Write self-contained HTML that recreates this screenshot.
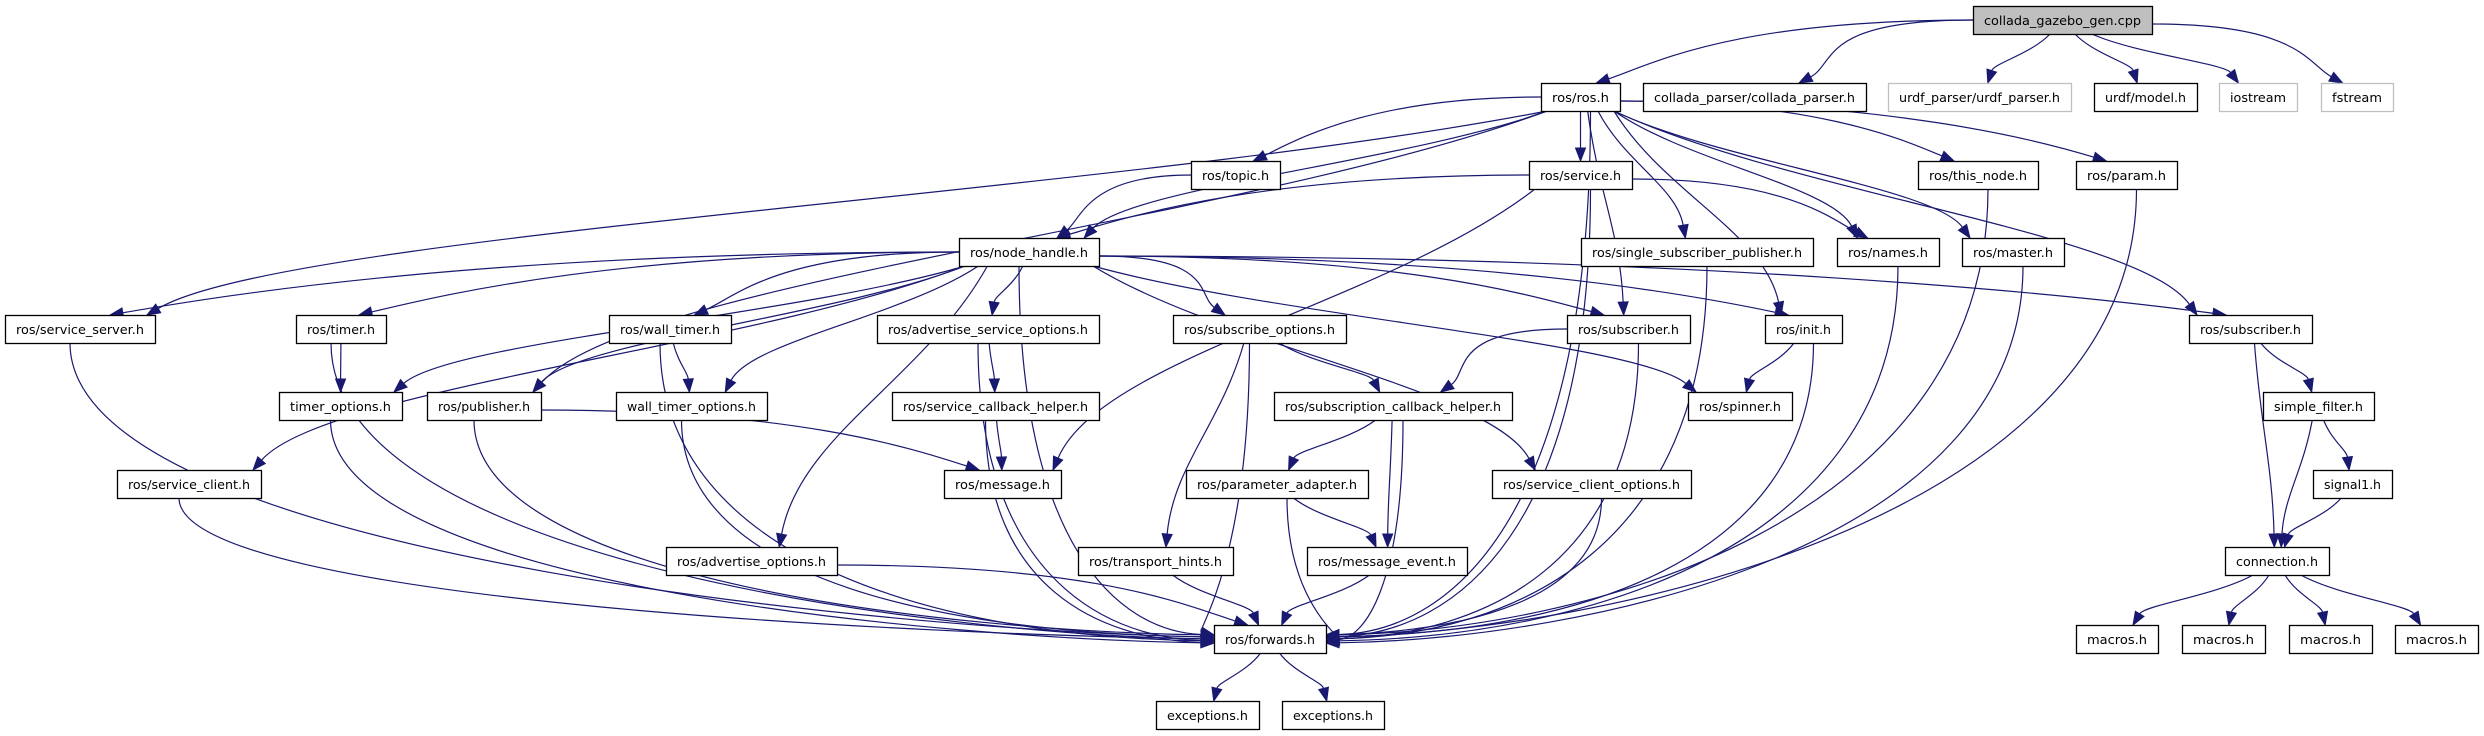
<!DOCTYPE html>
<html><head><meta charset="utf-8"><style>
html,body{margin:0;padding:0;background:#fff;}
svg{display:block;}
text{font-family:"DejaVu Sans","Liberation Sans",sans-serif;font-size:12.5px;fill:#000;}
</style></head><body>
<svg id="g" width="2484" height="736" viewBox="0 0 2484 736" xmlns="http://www.w3.org/2000/svg"></svg>
<script>
var N={
root:[1973,6,2152,34,"collada_gazebo_gen.cpp",2],
ros:[1541,83,1620,111,"ros/ros.h"],
cp:[1643,83,1866,111,"collada_parser/collada_parser.h"],
up:[1888,83,2071,111,"urdf_parser/urdf_parser.h",1],
um:[2094,83,2197,111,"urdf/model.h"],
ios:[2219,83,2297,111,"iostream",1],
fs:[2321,83,2393,111,"fstream",1],
topic:[1191,161,1280,189,"ros/topic.h"],
svc:[1529,161,1632,189,"ros/service.h"],
tn:[1918,161,2038,189,"ros/this_node.h"],
param:[2076,161,2177,189,"ros/param.h"],
nh:[959,238,1099,266,"ros/node_handle.h"],
ssp:[1581,238,1813,266,"ros/single_subscriber_publisher.h"],
names:[1837,238,1939,266,"ros/names.h"],
master:[1962,238,2064,266,"ros/master.h"],
ss:[5,315,155,343,"ros/service_server.h"],
timer:[296,315,386,343,"ros/timer.h"],
wt:[609,315,731,343,"ros/wall_timer.h"],
aso:[877,315,1099,343,"ros/advertise_service_options.h"],
so:[1173,315,1346,343,"ros/subscribe_options.h"],
sub:[1567,315,1690,343,"ros/subscriber.h"],
init:[1765,315,1842,343,"ros/init.h"],
sub2:[2189,315,2312,343,"ros/subscriber.h"],
to:[279,392,402,420,"timer_options.h"],
pub:[427,392,541,420,"ros/publisher.h"],
wto:[616,392,767,420,"wall_timer_options.h"],
sch:[892,392,1099,420,"ros/service_callback_helper.h"],
subch:[1274,392,1512,420,"ros/subscription_callback_helper.h"],
spin:[1688,392,1792,420,"ros/spinner.h"],
sf:[2263,392,2374,420,"simple_filter.h"],
sc:[117,470,261,498,"ros/service_client.h"],
msg:[944,470,1061,498,"ros/message.h"],
pa:[1186,470,1368,498,"ros/parameter_adapter.h"],
sco:[1492,470,1691,498,"ros/service_client_options.h"],
sig:[2313,470,2392,498,"signal1.h"],
ao:[666,547,837,575,"ros/advertise_options.h"],
th:[1078,547,1233,575,"ros/transport_hints.h"],
me:[1307,547,1467,575,"ros/message_event.h"],
con:[2225,547,2329,575,"connection.h"],
fw:[1214,625,1326,653,"ros/forwards.h"],
m1:[2076,625,2158,653,"macros.h"],m2:[2182,625,2265,653,"macros.h"],m3:[2289,625,2372,653,"macros.h"],m4:[2395,625,2478,653,"macros.h"],
e1:[1156,701,1259,729,"exceptions.h"],e2:[1282,701,1384,729,"exceptions.h"]
};
var E=[
["root","ros"],["root","cp"],["root","up"],["root","um"],["root","ios"],["root","fs"],
["ros","ss"],["ros","pub"],["ros","nh"],["ros","topic"],["ros","svc"],["ros","ssp"],["ros","names"],["ros","master"],["ros","tn"],["ros","param"],["ros","sub2"],["ros","init"],["ros","sub"],["ros","fw"],
["topic","nh"],["svc","nh"],["svc","msg"],["svc","names"],["svc","fw"],
["nh","ss"],["nh","timer"],["nh","wt"],["nh","to"],["nh","pub"],["nh","wto"],["nh","sc"],["nh","aso"],["nh","ao"],["nh","so"],["nh","sub"],["nh","init"],["nh","spin"],["nh","sco"],["nh","fw"],["nh","sub2"],
["ss","fw"],["timer","to"],["timer","fw"],["wt","wto"],["wt","fw"],["to","fw"],["pub","msg"],["pub","fw"],["wto","fw"],["sc","fw"],
["aso","sch"],["aso","fw"],["sch","msg"],["sch","fw"],["so","subch"],["so","th"],["so","fw"],["sub","subch"],["sub","fw"],
["subch","pa"],["subch","me"],["subch","fw"],["pa","me"],["pa","fw"],["th","fw"],["me","fw"],["sco","fw"],["ao","fw"],
["init","spin"],["init","fw"],["ssp","fw"],["names","fw"],["master","fw"],["tn","fw"],["param","fw"],
["sub2","sf"],["sub2","con"],["sf","sig"],["sf","con"],["sig","con"],
["con","m1"],["con","m2"],["con","m3"],["con","m4"],["fw","e1"],["fw","e2"]
];
var s='',C='#191970';
var fwCount={L:0,R:0};
E.forEach(function(e){
 var a=N[e[0]],b=N[e[1]];
 var acx=(a[0]+a[2])/2, bcx=(b[0]+b[2])/2;
 var x1,y1,x2,y2,c1x,c1y,c2x,c2y;
 var dy=b[1]-a[3], dx=bcx-acx;
 if(e[1]=="fw" && dy>80){
   var left=acx<1270;
   var k=left?fwCount.L++:fwCount.R++;
   x1=Math.max(a[0]+8,Math.min(a[2]-8,acx+(left?-10:10)));y1=a[3];
   x2=left?b[0]:b[2]; y2=639+((k%5)-2)*2;
   c1x=x1;c1y=y1+(y2-y1)*0.75;
   c2x=x2+(left?-1:1)*Math.min(260,Math.abs(x2-x1)*0.5);c2y=y2-4;
 } else if(Math.abs(dx)>4*Math.max(dy,20) && dy<120){
   x1=dx<0?a[0]:a[2]; y1=(a[1]+a[3])/2+(dx<0?0:4);
   x2=bcx+(dx<0?0.2:-0.2)*(b[2]-b[0]); y2=b[1];
   c1x=x1+dx*0.5;c1y=y1;c2x=x2-(dx*0.12);c2y=y2-dy*0.4;
 } else {
   x1=acx+Math.max(-(a[2]-a[0])/2+6,Math.min((a[2]-a[0])/2-6,dx*0.15)); y1=a[3];
   x2=bcx-Math.max(-(b[2]-b[0])/2+8,Math.min((b[2]-b[0])/2-8,dx*0.1)); y2=b[1];
   c1x=x1+(x2-x1)*0.3;c1y=y1+dy*0.4;c2x=x2-(x2-x1)*0.1;c2y=y2-dy*0.4;
 }
 // arrow
 var ux=x2-c2x,uy=y2-c2y,l=Math.hypot(ux,uy)||1;ux/=l;uy/=l;
 var L=13,W=5;
 var bx=x2-ux*L,by=y2-uy*L;
 s+='<path d="M'+x1+','+y1+' C'+c1x+','+c1y+' '+c2x+','+c2y+' '+bx+','+by+'" fill="none" stroke="'+C+'" stroke-width="1.2"/>';
 s+='<polygon points="'+x2+','+y2+' '+(bx-uy*W)+','+(by+ux*W)+' '+(bx+uy*W)+','+(by-ux*W)+'" fill="'+C+'" stroke="'+C+'"/>';
});
for(var k in N){var n=N[k],w=n[2]-n[0],h=n[3]-n[1];
 var fill=n[5]==2?'#bfbfbf':'#fff', st=n[5]==1?'#bfbfbf':'#000';
 s+='<rect x="'+(n[0]+0.5)+'" y="'+(n[1]+0.5)+'" width="'+w+'" height="'+h+'" fill="'+fill+'" stroke="'+st+'" stroke-width="1.3"/>';
 s+='<text x="'+(n[0]+w/2)+'" y="'+(n[1]+h/2+5)+'" text-anchor="middle" textLength="'+(w-22)+'" lengthAdjust="spacingAndGlyphs">'+n[4]+'</text>';
}
document.getElementById('g').innerHTML=s;
</script>
</body></html>
